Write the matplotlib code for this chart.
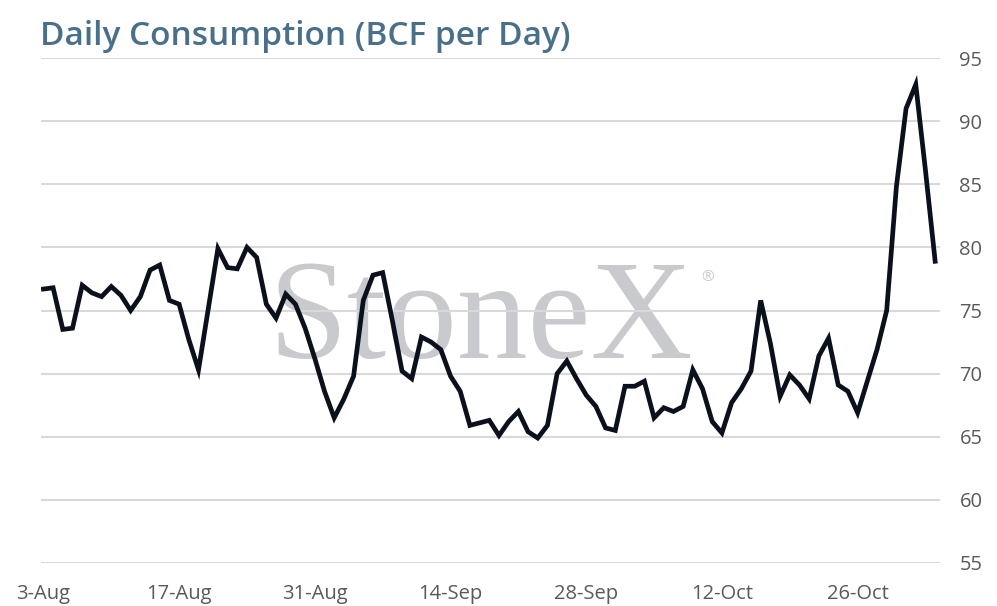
import pandas as pd
import matplotlib
matplotlib.use('Agg')
import matplotlib.pyplot as plt
import matplotlib.dates as mdates

# daily values, 3-Aug to 3-Nov
start_date = '2020-08-03'
consumption = [76.7, 76.8, 73.5, 73.6, 77.0, 76.4, 76.1, 76.9, 76.2, 75.0,
               76.1, 78.2, 78.6, 75.8, 75.5, 72.7, 70.3, 75.1, 79.9, 78.4,
               78.3, 80.0, 79.2, 75.5, 74.4, 76.3, 75.5, 73.6, 71.2, 68.6,
               66.5, 68.0, 69.8, 75.8, 77.8, 78.0, 74.2, 70.2, 69.6, 72.9,
               72.5, 71.9, 69.8, 68.6, 65.9, 66.1, 66.3, 65.1, 66.2, 67.0,
               65.4, 64.9, 65.9, 70.0, 71.0, 69.6, 68.3, 67.4, 65.7, 65.5,
               69.0, 69.0, 69.4, 66.5, 67.3, 67.0, 67.4, 70.3, 68.8, 66.2,
               65.3, 67.7, 68.8, 70.2, 75.8, 72.4, 68.2, 69.9, 69.1, 68.0,
               71.4, 72.8, 69.1, 68.6, 66.9, 69.4, 71.9, 75.0, 84.8, 91.0,
               92.9, 86.1, 78.9]
dates = pd.date_range(start_date, periods=len(consumption), freq='D')
y_ticks = [55, 60, 65, 70, 75, 80, 85, 90, 95]

plt.rcParams['font.family'] = ['Open Sans', 'DejaVu Sans']

fig = plt.figure(figsize=(9.97, 6.06), dpi=100)
ax = fig.add_axes([41 / 997, 1 - 563 / 606, 899 / 997, 505 / 606])

ax.plot(dates, consumption, color='#0a111c', lw=3.4, solid_joinstyle='miter', zorder=3)

ax.set_ylim(55, 95)
ax.set_yticks(y_ticks)
ax.set_xlim(dates[0] - pd.Timedelta(hours=6), dates[-1] + pd.Timedelta(hours=12))
ax.set_xticks(dates[::14])
ax.xaxis.set_major_formatter(mdates.DateFormatter('%-d-%b'))

ax.yaxis.tick_right()
ax.grid(axis='y', color='#d9d9d9', lw=1.5)
ax.set_axisbelow(True)
for s in ax.spines.values():
    s.set_visible(False)
ax.tick_params(axis='both', length=0, labelsize=14.5, labelcolor='#595959')
ax.tick_params(axis='x', pad=15)
ax.tick_params(axis='y', pad=14)

# watermark
ax.text(0.489, 0.406, 'StoneX', transform=ax.transAxes, ha='center', va='baseline',
        fontsize=102, family=['Liberation Serif'], color='#c9cacd', zorder=0)
ax.text(0.741, 0.566, '®', transform=ax.transAxes, ha='center', va='center',
        fontsize=11, color='#c9cacd', zorder=0)

fig.text(40 / 997, 1 - 45 / 606, 'Daily Consumption (BCF per Day)', ha='left', va='baseline',
         fontsize=24, fontweight='semibold', color='#4a7089')

fig.savefig('out.png', dpi=100)
